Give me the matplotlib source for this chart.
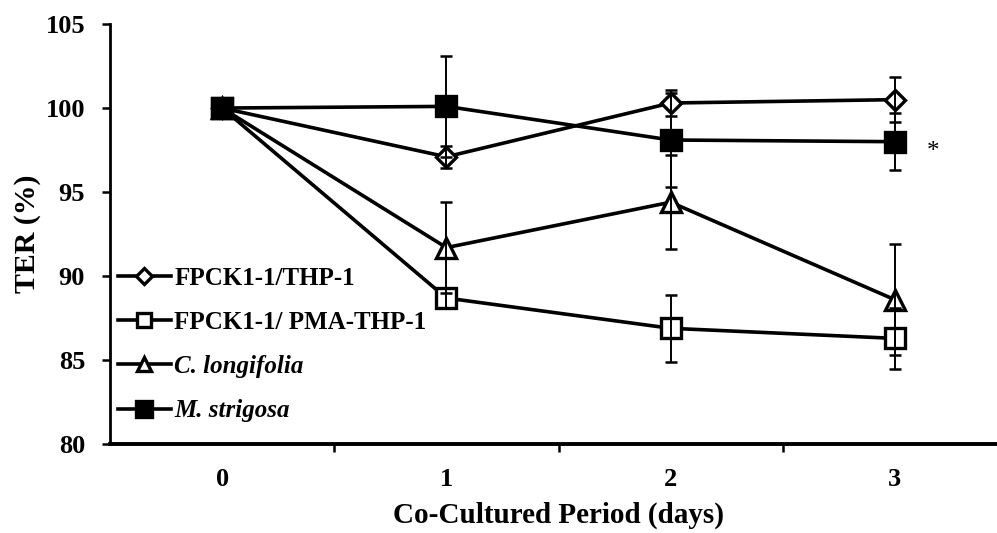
import matplotlib
matplotlib.use("Agg")
import matplotlib.pyplot as plt
import numpy as np

plt.rcParams['font.family'] = ['Liberation Serif', 'DejaVu Serif']
plt.rcParams['font.weight'] = 'bold'

# 數據
days = [0, 1, 2, 3]
day_labels = ['0', '1', '2', '3']

thp1 = [100.0, 97.1, 100.3, 100.5]
thp1_err = [0.0, 0.65, 0.8, 1.35]

pma_thp1 = [100.0, 88.7, 86.9, 86.3]
pma_thp1_err = [0.0, 0.6, 2.0, 1.8]

c_longifolia = [100.0, 91.7, 94.4, 88.6]
c_longifolia_err = [0.0, 2.7, 2.8, 3.3]

m_strigosa = [100.0, 100.1, 98.1, 98.0]
m_strigosa_err = [0.0, 3.0, 2.8, 1.7]

series = [
    ('FPCK1-1/THP-1', thp1, thp1_err, 'D', 'white', 10.5, 'normal'),
    ('FPCK1-1/ PMA-THP-1', pma_thp1, pma_thp1_err, 's', 'white', 14, 'normal'),
    ('C. longifolia', c_longifolia, c_longifolia_err, '^', 'white', 14, 'italic'),
    ('M. strigosa', m_strigosa, m_strigosa_err, 's', 'black', 15, 'italic'),
]

fig = plt.figure(figsize=(9.97, 5.33), dpi=100)
ax = fig.add_axes([110 / 997, 88.7 / 533, 897 / 997, 420.3 / 533])

x = np.array(days)
handles = []
for name, vals, err, mk, fc, ms, style in series:
    h, = ax.plot(x, vals, color='black', lw=2.6, marker=mk, ms=ms,
                 mfc=fc, mec='black', mew=2.4, zorder=3, label=name)
    handles.append(h)
    ax.errorbar(x[1:], vals[1:], yerr=err[1:], fmt='none', ecolor='black',
                elinewidth=1.4, capsize=4.5, capthick=1.8, zorder=4)

ax.text(3.17, 97.4, '*', fontsize=18, fontweight='normal', ha='center', va='center')

ax.set_xlim(-0.5, 3.5)
ax.set_ylim(80, 105)
ax.set_yticks(np.arange(80, 106, 5))
ax.set_xticks(x)
ax.set_xticklabels(day_labels)
ax.set_xticks([0.5, 1.5, 2.5], minor=True)
ax.tick_params(axis='x', which='major', length=0, pad=17, labelsize=19)
ax.tick_params(axis='x', which='minor', length=6, width=1.8, direction='out')
ax.tick_params(axis='y', length=6, width=1.8, direction='out', pad=12, labelsize=19)

for side in ['top', 'right']:
    ax.spines[side].set_visible(False)
ax.spines['left'].set_linewidth(2.0)
ax.spines['bottom'].set_linewidth(2.8)

ax.set_xlabel('Co-Cultured Period (days)', fontsize=21, fontweight='bold', labelpad=8)
ax.set_ylabel('TER (%)', fontsize=21.5, fontweight='bold', labelpad=3)

leg = ax.legend(handles=handles, loc='center left', bbox_to_anchor=(0.009, 0.2375),
                frameon=False, fontsize=18, handlelength=2.1, handletextpad=0.15,
                labelspacing=0.85, borderpad=0, borderaxespad=0, markerscale=0.75)
for t, s in zip(leg.get_texts(), series):
    t.set_fontstyle(s[6])
    t.set_fontweight('bold')

fig.savefig('out.png', dpi=100)
